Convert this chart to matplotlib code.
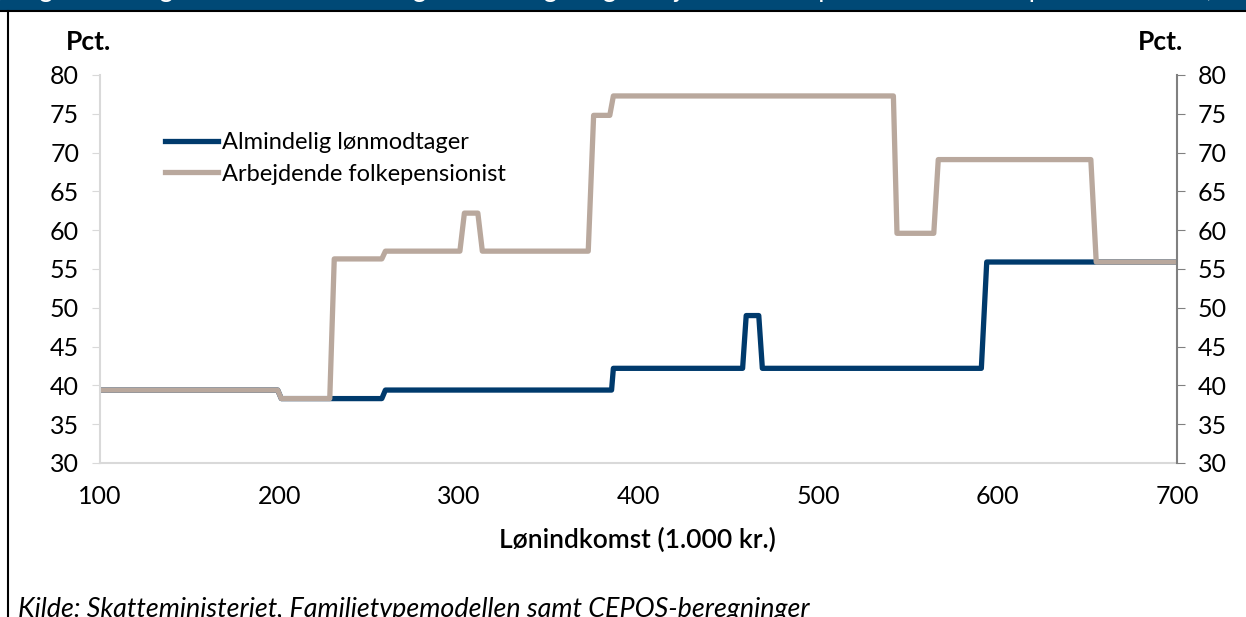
import matplotlib.pyplot as plt
from matplotlib.lines import Line2D

plt.rcParams['font.family'] = ['Lato', 'DejaVu Sans']

# Lønindkomst (1.000 kr.) og marginalskat (pct.)
lon_x = [100, 199, 201, 257, 259, 385, 386, 458, 460, 467, 469, 591, 594, 700]
lon_y = [39.4, 39.4, 38.3, 38.3, 39.4, 39.4, 42.2, 42.2, 49.0, 49.0, 42.2, 42.2, 55.9, 55.9]

pens_x = [100, 199, 201, 228, 230.5, 257, 259, 300.5, 303, 310.5, 313, 372, 375, 384,
          386, 542, 544, 564.5, 567, 652, 655, 700]
pens_y = [39.4, 39.4, 38.3, 38.3, 56.3, 56.3, 57.3, 57.3, 62.2, 62.2, 57.3, 57.3, 74.8, 74.8,
          77.3, 77.3, 59.6, 59.6, 69.1, 69.1, 55.9, 55.9]

labels = ['Almindelig lønmodtager', 'Arbejdende folkepensionist']
colors = ['#003A6C', '#B9A89D']
yticks = list(range(30, 81, 5))
xticks = list(range(100, 701, 100))

W, H = 1246, 617
fig = plt.figure(figsize=(W / 100, H / 100), dpi=100)
ax = fig.add_axes([100 / W, 1 - 463 / H, 1077 / W, 388 / H])

ax.plot(lon_x, lon_y, color=colors[0], lw=3.8, solid_joinstyle='round', solid_capstyle='butt')
ax.plot(pens_x, pens_y, color=colors[1], lw=3.8, solid_joinstyle='round', solid_capstyle='butt')

ax.set_xlim(100, 700)
ax.set_ylim(30, 80)
ax.set_xticks(xticks)
ax.set_yticks(yticks)
ax.tick_params(axis='x', length=0, pad=16, labelsize=18)
ax.tick_params(axis='y', length=6, color='#d9d9d9', pad=9, labelsize=18)
for s in ['top', 'right']:
    ax.spines[s].set_visible(False)
for s in ['left', 'bottom']:
    ax.spines[s].set_color('#d9d9d9')
    ax.spines[s].set_linewidth(1.5)

ax2 = ax.twinx()
ax2.set_ylim(30, 80)
ax2.set_yticks(yticks)
ax2.tick_params(axis='y', length=6, color='#808080', pad=9, labelsize=18)
for s in ['top', 'left', 'bottom']:
    ax2.spines[s].set_visible(False)
ax2.spines['right'].set_color('#808080')
ax2.spines['right'].set_linewidth(1.5)

handles = [Line2D([], [], color=c, lw=3.8) for c in colors]
ax.legend(handles, labels, loc='upper left', bbox_to_anchor=(0.06, 0.853), frameon=False,
          fontsize=17, handlelength=2.25, handletextpad=0.17, labelspacing=0.45, borderpad=0,
          borderaxespad=0)

fig.text(88 / W, 1 - 42 / H, 'Pct.', ha='center', va='center', fontsize=19, fontweight='bold')
fig.text(1160 / W, 1 - 42 / H, 'Pct.', ha='center', va='center', fontsize=19, fontweight='bold')
fig.text(637 / W, 1 - 540 / H, 'Lønindkomst (1.000 kr.)', ha='center', va='center',
         fontsize=19, fontweight='semibold')
fig.text(18 / W, 1 - 617 / H, 'Kilde: Skatteministeriet, Familietypemodellen samt CEPOS-beregninger',
         ha='left', va='baseline', fontsize=19.4, style='italic')

# banner and frame
fig.patches.append(plt.Rectangle((0, 1 - 10 / H), 1, 10 / H, transform=fig.transFigure,
                                 color='#004976', zorder=0))
fig.add_artist(Line2D([0, 1], [1 - 11 / H, 1 - 11 / H], transform=fig.transFigure,
                      color='black', lw=1.5))
fig.add_artist(Line2D([8 / W, 8 / W], [0, 1 - 11 / H], transform=fig.transFigure,
                      color='black', lw=1.5))
fig.text(18 / W, 1 + 3 / H,
         'Figur 1. Marginalskat for almindelig lønmodtager og arbejdende folkepensionist fordelt på lønindkomst, 2019',
         ha='left', va='baseline', fontsize=19, color='white')

fig.savefig('out.png', dpi=100)
